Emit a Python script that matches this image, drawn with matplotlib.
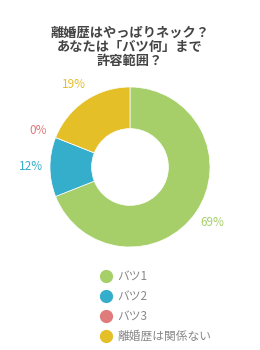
import matplotlib.pyplot as plt
from matplotlib.lines import Line2D

plt.rcParams['font.family'] = ['Noto Sans CJK JP', 'DejaVu Sans']

# chart data
title = "離婚歴はやっぱりネック？\nあなたは「バツ何」まで\n許容範囲？"
categories = ["バツ1", "バツ2", "バツ3", "離婚歴は関係ない"]
shares = [69, 12, 0, 19]
colors = ["#a6cf6a", "#35aecb", "#e07b7b", "#e5bf27"]

fig = plt.figure(figsize=(2.6, 3.5), dpi=100)
fig.text(0.5, 1 - 26 / 350, title, ha="center", va="top", fontsize=9.5,
         fontweight="bold", color="#444444", linespacing=1.02)

# donut
ax = fig.add_axes([30 / 260, 83 / 350, 200 / 260, 200 / 350])
wedges, texts, pcts = ax.pie(
    shares, colors=colors, startangle=90, counterclock=False,
    autopct="%d%%", pctdistance=1.24,
    wedgeprops=dict(width=0.52, edgecolor="white", linewidth=0.5),
    textprops=dict(fontsize=8.5),
)
for t, c in zip(pcts, colors):
    t.set_color(c)
ax.set_xlim(-1.25, 1.25)
ax.set_ylim(-1.25, 1.25)
ax.set_aspect("equal")

# legend
handles = [Line2D([], [], marker="o", linestyle="", markersize=8.5,
                  markerfacecolor=c, markeredgecolor=c) for c in colors]
leg = fig.legend(handles, categories, loc="upper left",
                 bbox_to_anchor=(88 / 260, 1 - 260 / 350), frameon=False,
                 fontsize=8.5, labelspacing=0.58, handletextpad=0.4,
                 handlelength=1.2)
for t in leg.get_texts():
    t.set_color("#888888")

fig.savefig("out.png", dpi=100)
